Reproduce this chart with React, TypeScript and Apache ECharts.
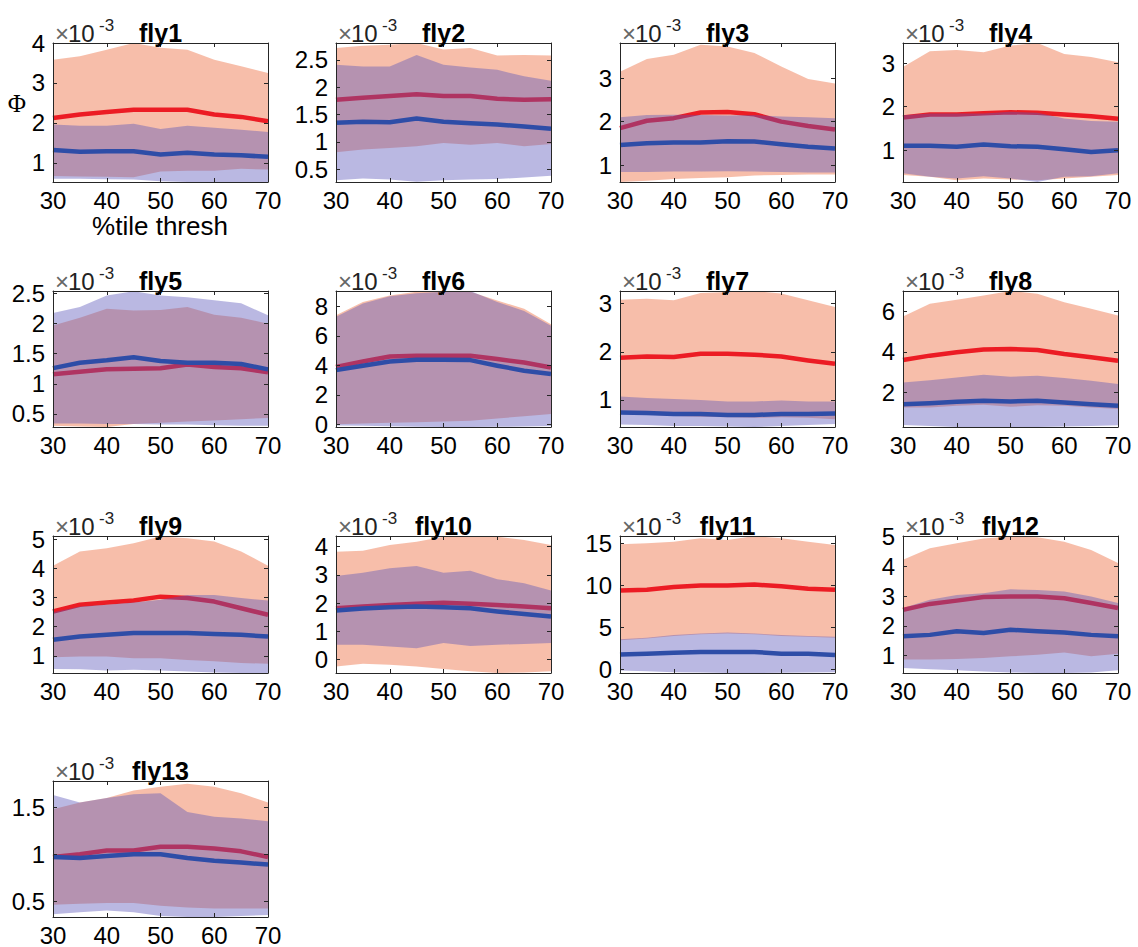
import React, { useEffect, useRef } from "react";
import * as echarts from "echarts";

const thresholds = [30, 35, 40, 45, 50, 55, 60, 65, 70];
const xTickStep = 10;
const flyNames = ["fly1", "fly2", "fly3", "fly4", "fly5", "fly6", "fly7", "fly8", "fly9", "fly10", "fly11", "fly12", "fly13"];

const yMin = [0.52, 0.266, 0.61, 0.27, 0.28, -0.18, 0.44, 0.3, 0.41, -0.47, -0.4, 0.42, 0.33];
const yMax = [4.0, 2.81, 3.81, 3.46, 2.545, 9.05, 3.26, 6.99, 5.11, 4.38, 15.87, 5.02, 1.78];
const yTicks = [
  [1, 2, 3, 4], [0.5, 1, 1.5, 2, 2.5], [1, 2, 3], [1, 2, 3],
  [0.5, 1, 1.5, 2, 2.5], [0, 2, 4, 6, 8], [1, 2, 3], [2, 4, 6],
  [1, 2, 3, 4, 5], [0, 1, 2, 3, 4], [0, 5, 10, 15], [1, 2, 3, 4, 5],
  [0.5, 1, 1.5],
];

const redHigh = [
  [3.58, 3.67, 3.83, 4.0, 3.88, 3.83, 3.58, 3.42, 3.25],
  [2.72, 2.76, 2.78, 2.81, 2.69, 2.72, 2.58, 2.59, 2.58],
  [3.15, 3.44, 3.54, 3.77, 3.73, 3.58, 3.27, 2.98, 2.88],
  [2.91, 3.27, 3.3, 3.25, 3.4, 3.46, 3.21, 3.14, 3.02],
  [1.97, 2.1, 2.25, 2.22, 2.23, 2.28, 2.15, 2.1, 2.0],
  [7.4, 8.3, 8.75, 9.0, 9.05, 9.0, 8.4, 7.85, 6.8],
  [3.08, 3.1, 3.07, 3.22, 3.24, 3.26, 3.21, 3.07, 2.93],
  [5.74, 6.36, 6.56, 6.77, 6.99, 6.86, 6.44, 6.12, 5.79],
  [4.09, 4.58, 4.69, 4.86, 5.09, 5.03, 4.92, 4.58, 4.09],
  [3.82, 3.86, 4.06, 4.18, 4.35, 4.38, 4.35, 4.24, 4.06],
  [14.9, 15.0, 15.2, 15.6, 15.4, 15.87, 15.6, 15.2, 14.8],
  [4.22, 4.61, 4.78, 4.94, 5.0, 4.98, 4.83, 4.55, 4.11],
  [1.48, 1.55, 1.6, 1.68, 1.72, 1.75, 1.72, 1.65, 1.55],
];
const redMean = [
  [2.12, 2.21, 2.27, 2.33, 2.33, 2.33, 2.21, 2.15, 2.04],
  [1.77, 1.81, 1.84, 1.87, 1.84, 1.84, 1.79, 1.77, 1.78],
  [1.85, 2.02, 2.08, 2.21, 2.22, 2.17, 2.0, 1.9, 1.82],
  [1.75, 1.82, 1.82, 1.85, 1.87, 1.86, 1.82, 1.78, 1.72],
  [1.16, 1.2, 1.24, 1.25, 1.26, 1.32, 1.28, 1.26, 1.19],
  [3.9, 4.27, 4.6, 4.66, 4.66, 4.66, 4.43, 4.2, 3.86],
  [1.875, 1.9, 1.89, 1.96, 1.96, 1.94, 1.9, 1.82, 1.75],
  [3.6, 3.81, 3.98, 4.11, 4.14, 4.09, 3.89, 3.73, 3.56],
  [2.52, 2.75, 2.83, 2.9, 3.03, 2.98, 2.86, 2.63, 2.41],
  [1.82, 1.88, 1.94, 1.98, 2.02, 1.98, 1.94, 1.88, 1.82],
  [9.4, 9.5, 9.8, 10.0, 10.0, 10.1, 9.9, 9.6, 9.5],
  [2.54, 2.74, 2.85, 2.97, 2.99, 2.99, 2.93, 2.77, 2.6],
  [0.97, 1.0, 1.04, 1.04, 1.08, 1.08, 1.06, 1.03, 0.97],
];
const redLow = [
  [0.67, 0.66, 0.65, 0.64, 0.78, 0.8, 0.8, 0.85, 0.83],
  [0.81, 0.86, 0.89, 0.92, 0.98, 0.95, 0.98, 0.92, 0.96],
  [0.61, 0.64, 0.68, 0.7, 0.72, 0.76, 0.77, 0.78, 0.78],
  [0.43, 0.39, 0.31, 0.35, 0.33, 0.31, 0.35, 0.39, 0.43],
  [0.3, 0.29, 0.28, 0.33, 0.35, 0.37, 0.39, 0.41, 0.43],
  [0.0, 0.05, 0.1, 0.15, 0.2, 0.25, 0.4, 0.55, 0.7],
  [0.71, 0.7, 0.67, 0.65, 0.64, 0.63, 0.64, 0.63, 0.6],
  [1.26, 1.26, 1.34, 1.39, 1.29, 1.37, 1.34, 1.26, 1.18],
  [0.95, 0.98, 0.98, 0.92, 0.92, 0.86, 0.81, 0.75, 0.73],
  [-0.24, -0.14, -0.18, -0.24, -0.33, -0.41, -0.47, -0.45, -0.41],
  [3.5, 3.7, 4.0, 4.2, 4.3, 4.2, 4.0, 3.9, 3.8],
  [0.87, 0.87, 0.89, 0.92, 0.98, 1.03, 1.11, 0.98, 1.07],
  [0.46, 0.47, 0.48, 0.48, 0.45, 0.43, 0.42, 0.42, 0.42],
];
const blueHigh = [
  [1.96, 1.93, 1.93, 1.98, 1.85, 1.93, 1.88, 1.83, 1.77],
  [2.41, 2.38, 2.38, 2.59, 2.41, 2.36, 2.32, 2.2, 2.12],
  [2.1, 2.15, 2.16, 2.15, 2.14, 2.15, 2.12, 2.1, 2.08],
  [1.8, 1.84, 1.84, 1.84, 1.88, 1.86, 1.73, 1.67, 1.65],
  [2.18, 2.28, 2.47, 2.54, 2.47, 2.44, 2.39, 2.34, 2.14],
  [7.3, 8.2, 8.7, 8.9, 9.0, 9.05, 8.3, 7.7, 6.7],
  [1.07, 1.04, 1.02, 1.0, 0.97, 0.97, 0.99, 0.97, 0.97],
  [2.49, 2.6, 2.74, 2.87, 2.77, 2.82, 2.71, 2.58, 2.41],
  [2.49, 2.69, 2.75, 2.83, 2.92, 3.09, 3.09, 2.98, 2.9],
  [2.96, 3.08, 3.24, 3.32, 3.08, 3.15, 2.85, 2.71, 2.45],
  [3.6, 3.8, 4.1, 4.3, 4.4, 4.3, 4.1, 4.0, 3.9],
  [2.6, 2.88, 3.04, 3.1, 3.23, 3.21, 3.16, 2.99, 2.77],
  [1.63, 1.55, 1.6, 1.64, 1.65, 1.45, 1.4, 1.38, 1.35],
];
const blueMean = [
  [1.32, 1.28, 1.29, 1.29, 1.21, 1.25, 1.21, 1.19, 1.15],
  [1.35, 1.37, 1.36, 1.43, 1.37, 1.34, 1.32, 1.28, 1.24],
  [1.46, 1.5, 1.52, 1.52, 1.55, 1.54, 1.48, 1.42, 1.38],
  [1.1, 1.1, 1.08, 1.13, 1.09, 1.08, 1.02, 0.96, 1.0],
  [1.26, 1.35, 1.39, 1.44, 1.38, 1.35, 1.35, 1.33, 1.24],
  [3.68, 3.98, 4.27, 4.39, 4.39, 4.36, 3.98, 3.64, 3.41],
  [0.74, 0.73, 0.71, 0.71, 0.69, 0.69, 0.71, 0.71, 0.72],
  [1.42, 1.47, 1.54, 1.59, 1.56, 1.59, 1.51, 1.42, 1.34],
  [1.55, 1.66, 1.72, 1.78, 1.78, 1.78, 1.75, 1.72, 1.66],
  [1.74, 1.81, 1.86, 1.88, 1.86, 1.82, 1.71, 1.62, 1.53],
  [1.8, 1.9, 2.0, 2.1, 2.1, 2.1, 1.9, 1.9, 1.75],
  [1.65, 1.7, 1.82, 1.76, 1.87, 1.82, 1.78, 1.7, 1.65],
  [0.97, 0.96, 0.98, 1.0, 1.0, 0.96, 0.93, 0.91, 0.89],
];
const blueLow = [
  [0.6, 0.6, 0.59, 0.58, 0.54, 0.52, 0.52, 0.52, 0.52],
  [0.3, 0.33, 0.31, 0.27, 0.3, 0.31, 0.32, 0.35, 0.38],
  [0.84, 0.84, 0.85, 0.85, 0.86, 0.85, 0.84, 0.83, 0.83],
  [0.47, 0.39, 0.35, 0.4, 0.35, 0.27, 0.39, 0.4, 0.47],
  [0.34, 0.34, 0.33, 0.33, 0.32, 0.32, 0.31, 0.3, 0.3],
  [-0.08, -0.1, -0.13, -0.16, -0.18, -0.18, -0.17, -0.15, -0.12],
  [0.49, 0.48, 0.46, 0.46, 0.45, 0.44, 0.46, 0.48, 0.5],
  [0.4, 0.35, 0.3, 0.3, 0.3, 0.3, 0.33, 0.35, 0.39],
  [0.55, 0.54, 0.5, 0.52, 0.5, 0.46, 0.43, 0.41, 0.41],
  [0.53, 0.53, 0.47, 0.41, 0.59, 0.49, 0.53, 0.56, 0.59],
  [-0.1, -0.2, -0.3, -0.35, -0.4, -0.4, -0.38, -0.35, -0.3],
  [0.59, 0.55, 0.51, 0.47, 0.44, 0.42, 0.42, 0.44, 0.51],
  [0.36, 0.38, 0.4, 0.38, 0.34, 0.33, 0.33, 0.34, 0.35],
];

const colLeft = [53, 336, 620, 903];
const rowTop = [43, 291, 536, 781];
const rowH = [139, 136, 137, 136];
const plotW = 215;

const FONT = "'Liberation Sans', Arial, sans-serif";
const AX = "#262626";
const RED_LINE = "#EC1C24";
const BLUE_LINE = "#2E4DA7";
const RED_BAND = "rgba(240,125,85,0.5)";
const BLUE_BAND = "rgba(90,85,185,0.42)";

function bandSeries(i: number, hi: number[], lo: number[], fill: string, z: number) {
  return {
    type: "custom",
    xAxisIndex: 2 * i,
    yAxisIndex: 2 * i,
    silent: true,
    z,
    data: thresholds.map((t, j) => [t, lo[j], hi[j]]),
    encode: { x: 0, y: [1, 2] },
    renderItem: (params: any, api: any) => {
      if (params.dataIndex !== 0) return null;
      const pts: number[][] = [];
      thresholds.forEach((t, j) => pts.push(api.coord([t, hi[j]])));
      for (let j = thresholds.length - 1; j >= 0; j--) pts.push(api.coord([thresholds[j], lo[j]]));
      return { type: "polygon", shape: { points: pts }, style: { fill, stroke: null } };
    },
  };
}

function lineSeries(i: number, vals: number[], color: string, z: number) {
  return {
    type: "line",
    xAxisIndex: 2 * i,
    yAxisIndex: 2 * i,
    silent: true,
    z,
    symbol: "none",
    data: thresholds.map((t, j) => [t, vals[j]]),
    lineStyle: { color, width: 4.5, cap: "butt", join: "round" },
  };
}

function buildOption() {
  const grid: any[] = [];
  const xAxis: any[] = [];
  const yAxis: any[] = [];
  const series: any[] = [];
  const graphic: any[] = [];
  const axisLine = { show: true, onZero: false, lineStyle: { color: AX, width: 1 } };
  const tick = { show: true, inside: true, length: 4, lineStyle: { color: AX, width: 1 } };

  flyNames.forEach((name, i) => {
    const row = Math.floor(i / 4);
    const left = colLeft[i % 4];
    const top = rowTop[row];
    grid.push({ left, top, width: plotW, height: rowH[row], containLabel: false, outerBoundsMode: "none" });
    xAxis.push({
      gridIndex: i, type: "value", min: 30, max: 70, interval: xTickStep, position: "bottom", z: 10,
      axisLine, axisTick: tick, splitLine: { show: false },
      axisLabel: { show: true, color: "#000", fontSize: 24, fontFamily: FONT, margin: 6 },
    });
    xAxis.push({
      gridIndex: i, type: "value", min: 30, max: 70, interval: xTickStep, position: "top", z: 10,
      axisLine, axisTick: tick, splitLine: { show: false }, axisLabel: { show: false },
    });
    yAxis.push({
      gridIndex: i, type: "value", min: yMin[i], max: yMax[i], position: "left", z: 10,
      axisLine, axisTick: { ...tick, customValues: yTicks[i] }, splitLine: { show: false },
      axisLabel: { show: true, customValues: yTicks[i], color: "#000", fontSize: 24, fontFamily: FONT, margin: 8, formatter: (v: number) => String(v) },
    });
    yAxis.push({
      gridIndex: i, type: "value", min: yMin[i], max: yMax[i], position: "right", z: 10,
      axisLine, axisTick: { ...tick, customValues: yTicks[i] }, splitLine: { show: false },
      axisLabel: { show: false, customValues: yTicks[i] },
    });

    series.push(bandSeries(i, redHigh[i], redLow[i], RED_BAND, 1));
    series.push(lineSeries(i, redMean[i], RED_LINE, 2));
    series.push(bandSeries(i, blueHigh[i], blueLow[i], BLUE_BAND, 3));
    series.push(lineSeries(i, blueMean[i], BLUE_LINE, 4));

    graphic.push({
      type: "text", x: left + plotW / 2, y: top - 10, z: 20,
      style: { text: name, fontSize: 25, fontWeight: "bold", fontFamily: FONT, fill: "#000", align: "center", verticalAlign: "middle" },
    });
    graphic.push({
      type: "text", x: left + 2, y: top - 10, z: 20,
      style: { text: "×", fontSize: 24, fontFamily: FONT, fill: "#666", align: "left", verticalAlign: "middle" },
    });
    graphic.push({
      type: "text", x: left + 15, y: top - 10, z: 20,
      style: { text: "10", fontSize: 24, fontFamily: FONT, fill: "#222", align: "left", verticalAlign: "middle" },
    });
    graphic.push({
      type: "text", x: left + 46, y: top - 18, z: 20,
      style: { text: "-3", fontSize: 17, fontFamily: FONT, fill: "#222", align: "left", verticalAlign: "middle" },
    });
  });

  graphic.push({
    type: "text", x: 17, y: 103, z: 20,
    style: { text: "Φ", fontSize: 25, fontFamily: "'Liberation Serif', 'DejaVu Serif', serif", fill: "#000", align: "center", verticalAlign: "middle" },
  });
  graphic.push({
    type: "text", x: 160, y: 226, z: 20,
    style: { text: "%tile thresh", fontSize: 26, fontFamily: FONT, fill: "#000", align: "center", verticalAlign: "middle" },
  });

  return {
    animation: false,
    backgroundColor: "#fff",
    grid,
    xAxis,
    yAxis,
    series,
    graphic,
  };
}

export default function App() {
  const ref = useRef<HTMLDivElement>(null);
  useEffect(() => {
    if (!ref.current) return;
    const chart = echarts.init(ref.current, undefined, { renderer: "svg" });
    chart.setOption(buildOption() as any);
    return () => chart.dispose();
  }, []);
  return <div ref={ref} style={{ position: "absolute", left: 0, top: 0, width: 1138, height: 947 }} />;
}
